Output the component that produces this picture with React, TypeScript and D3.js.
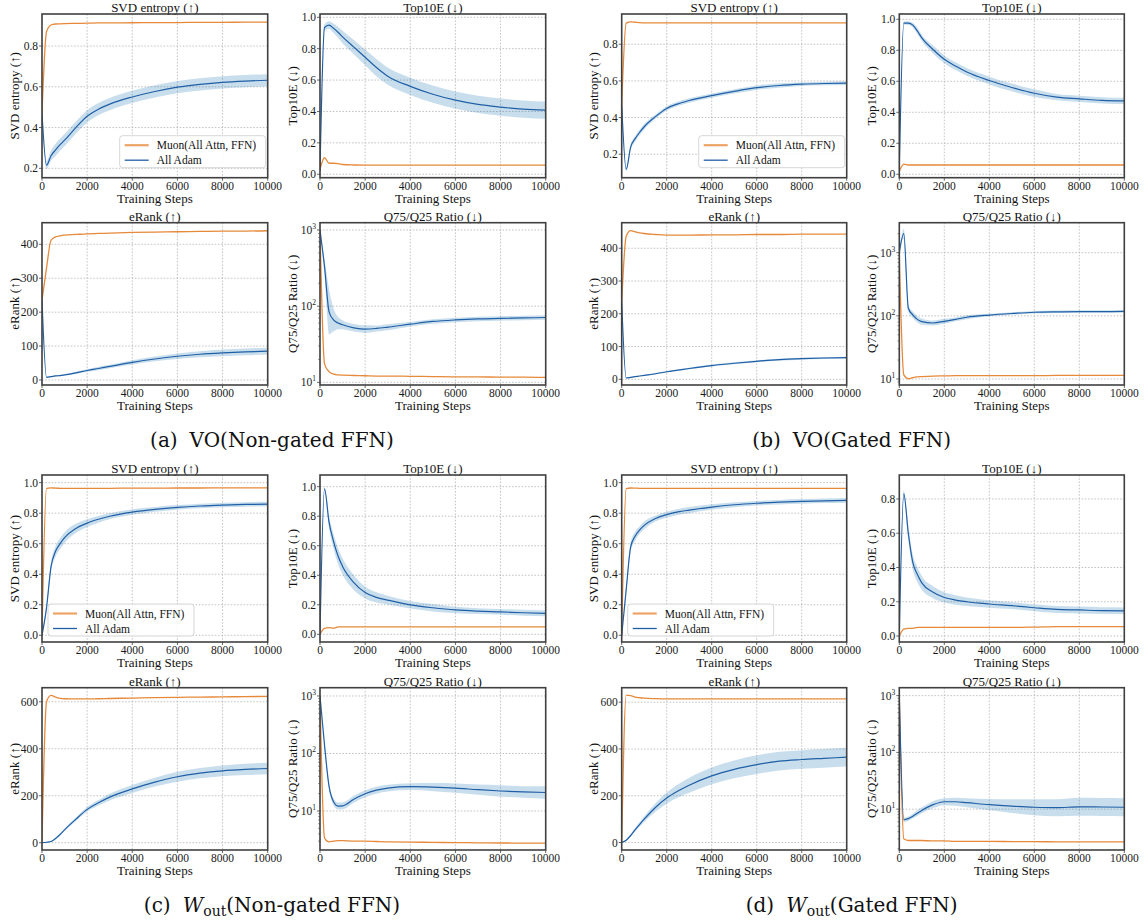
import React from 'react';
import * as d3 from 'd3';

// ---------------- DATA ----------------
const STEPS = [0, 200, 400, 600, 800, 1000, 1500, 2000, 2500, 3000, 4000, 5000, 6000, 7000, 8000, 9000, 10000];
const X_TICKS = [0, 2000, 4000, 6000, 8000, 10000];
const SERIES = ['Muon(All Attn, FFN)', 'All Adam'];
const TITLES = ['SVD entropy (↑)', 'Top10E (↓)', 'eRank (↑)', 'Q75/Q25 Ratio (↓)'];
const X_LABEL = 'Training Steps';
const CAPTION_TAGS = ['(a)', '(b)', '(c)', '(d)'];
const CAPTION_MODULES = ['VO', 'VO', 'W', 'W'];
const CAPTION_SUBS = ['', '', 'out', 'out'];
const CAPTION_VARIANTS = ['(Non-gated FFN)', '(Gated FFN)', '(Non-gated FFN)', '(Gated FFN)'];

const TICKS_SVD_A = [0.2, 0.4, 0.6, 0.8];
const TICKS_01 = [0, 0.2, 0.4, 0.6, 0.8, 1.0];
const TICKS_08 = [0, 0.2, 0.4, 0.6, 0.8];
const TICKS_RANK_400 = [0, 100, 200, 300, 400];
const TICKS_RANK_600 = [0, 200, 400, 600];
const TICKS_LOG = [10, 100, 1000];

// (a) VO (Non-gated FFN)
const A_SVD_MUON = [0.47, 0.87, 0.903, 0.908, 0.909, 0.91, 0.911, 0.912, 0.913, 0.913, 0.914, 0.915, 0.915, 0.916, 0.916, 0.917, 0.917];
const A_SVD_ADAM = [0.47, 0.215, 0.262, 0.29, 0.316, 0.338, 0.4, 0.455, 0.49, 0.515, 0.55, 0.577, 0.598, 0.612, 0.622, 0.628, 0.632];
const A_SVD_ADAM_SD = [0.005, 0.02, 0.025, 0.03, 0.03, 0.03, 0.03, 0.03, 0.03, 0.03, 0.03, 0.03, 0.03, 0.03, 0.03, 0.03, 0.03];
const A_TOP_MUON = [0.03, 0.105, 0.07, 0.07, 0.068, 0.062, 0.059, 0.058, 0.058, 0.058, 0.058, 0.058, 0.058, 0.058, 0.058, 0.058, 0.058];
const A_TOP_ADAM = [0.02, 0.935, 0.95, 0.93, 0.905, 0.875, 0.81, 0.745, 0.68, 0.625, 0.56, 0.51, 0.472, 0.445, 0.428, 0.415, 0.408];
const A_TOP_ADAM_SD = [0.005, 0.02, 0.025, 0.03, 0.035, 0.04, 0.045, 0.05, 0.055, 0.055, 0.055, 0.055, 0.055, 0.055, 0.055, 0.055, 0.055];
const A_RANK_MUON = [236, 330, 412, 422, 425, 427, 429, 431, 432, 433, 435, 436, 437, 438, 439, 439, 440];
const A_RANK_ADAM = [236, 8, 10, 12, 13, 15, 21, 28, 34, 40, 52, 62, 70, 76, 80, 83, 85];
const A_RANK_ADAM_SD = [1, 1, 1, 2, 2, 2, 3, 4, 5, 5, 6, 7, 8, 9, 10, 10, 10];
const A_Q_MUON = [1000, 17.5, 13.8, 12.8, 12.5, 12.4, 12.3, 12.2, 12.1, 12.1, 12.0, 11.9, 11.8, 11.8, 11.7, 11.7, 11.6];
const A_Q_ADAM = [1000, 330, 85, 66, 60, 57, 52, 50, 51, 53, 58, 63, 66, 68, 69, 70, 71];
const A_Q_ADAM_SD = [0, 0.1, 0.3, 0.15, 0.08, 0.06, 0.05, 0.05, 0.04, 0.04, 0.03, 0.03, 0.03, 0.03, 0.03, 0.03, 0.03];

// (b) VO (Gated FFN)
const B_SVD_MUON = [0.47, 0.915, 0.922, 0.92, 0.918, 0.917, 0.917, 0.917, 0.917, 0.917, 0.917, 0.917, 0.917, 0.917, 0.917, 0.917, 0.917];
const B_SVD_ADAM = [0.47, 0.118, 0.24, 0.285, 0.32, 0.35, 0.405, 0.45, 0.475, 0.493, 0.52, 0.543, 0.563, 0.575, 0.582, 0.586, 0.588];
const B_SVD_ADAM_SD = [0.005, 0.01, 0.015, 0.015, 0.015, 0.015, 0.012, 0.012, 0.012, 0.012, 0.012, 0.012, 0.012, 0.012, 0.01, 0.01, 0.01];
const B_TOP_MUON = [0.02, 0.065, 0.06, 0.06, 0.06, 0.06, 0.06, 0.06, 0.06, 0.06, 0.06, 0.06, 0.06, 0.06, 0.06, 0.06, 0.06];
const B_TOP_ADAM = [0.02, 0.975, 0.975, 0.962, 0.925, 0.88, 0.805, 0.742, 0.698, 0.66, 0.605, 0.56, 0.523, 0.498, 0.487, 0.477, 0.473];
const B_TOP_ADAM_SD = [0.005, 0.01, 0.012, 0.015, 0.02, 0.02, 0.025, 0.025, 0.025, 0.025, 0.025, 0.025, 0.025, 0.02, 0.02, 0.02, 0.02];
const B_RANK_MUON = [236, 437, 454, 450, 447, 445, 442, 440, 440, 440, 441, 441, 442, 442, 443, 443, 443];
const B_RANK_ADAM = [236, 4, 6, 8, 10, 12, 17, 23, 28, 33, 42, 49, 55, 60, 63, 65, 66];
const B_RANK_ADAM_SD = [1, 1, 1, 1, 1, 1, 2, 2, 2, 2, 3, 3, 3, 3, 3, 3, 3];
const B_Q_MUON = [950, 11.6, 10.1, 10.5, 10.8, 10.9, 11.1, 11.2, 11.3, 11.3, 11.3, 11.3, 11.3, 11.4, 11.4, 11.4, 11.4];
const B_Q_ADAM = [1000, 2000, 132, 104, 88, 81, 77, 82, 88, 95, 103, 109, 114, 116, 117, 117, 118];
const B_Q_ADAM_SD = [0, 0.08, 0.06, 0.05, 0.05, 0.05, 0.04, 0.04, 0.03, 0.03, 0.02, 0.02, 0.02, 0.02, 0.02, 0.02, 0.02];

// (c) W_out (Non-gated FFN)
const C_SVD_MUON = [0.01, 0.963, 0.966, 0.964, 0.963, 0.962, 0.962, 0.962, 0.963, 0.963, 0.964, 0.964, 0.965, 0.965, 0.966, 0.966, 0.966];
const C_SVD_ADAM = [0.0, 0.18, 0.45, 0.55, 0.6, 0.64, 0.7, 0.735, 0.76, 0.78, 0.807, 0.825, 0.838, 0.847, 0.853, 0.857, 0.859];
const C_SVD_ADAM_SD = [0.002, 0.02, 0.03, 0.035, 0.035, 0.035, 0.03, 0.025, 0.022, 0.02, 0.018, 0.016, 0.015, 0.015, 0.015, 0.015, 0.015];
const C_TOP_MUON = [0.0, 0.04, 0.045, 0.042, 0.05, 0.05, 0.05, 0.05, 0.05, 0.05, 0.05, 0.05, 0.05, 0.05, 0.05, 0.05, 0.05];
const C_TOP_ADAM = [0.0, 0.985, 0.76, 0.63, 0.53, 0.46, 0.35, 0.283, 0.25, 0.232, 0.2, 0.18, 0.165, 0.157, 0.152, 0.146, 0.142];
const C_TOP_ADAM_SD = [0.002, 0.01, 0.04, 0.05, 0.055, 0.055, 0.05, 0.04, 0.035, 0.03, 0.025, 0.025, 0.022, 0.02, 0.02, 0.02, 0.02];
const C_RANK_MUON = [5, 600, 627, 620, 615, 613, 612, 612, 613, 614, 616, 618, 619, 620, 621, 622, 623];
const C_RANK_ADAM = [0, 2, 5, 18, 35, 55, 100, 142, 170, 194, 229, 258, 281, 296, 306, 312, 316];
const C_RANK_ADAM_SD = [0, 1, 2, 3, 4, 5, 7, 10, 12, 14, 17, 19, 21, 22, 23, 24, 25];
const C_Q_MUON = [1000, 3.4, 2.9, 3.0, 3.05, 3.05, 3.0, 3.0, 2.95, 2.9, 2.88, 2.85, 2.82, 2.8, 2.78, 2.77, 2.76];
const C_Q_ADAM = [1000, 140, 27, 14.5, 12.2, 12.3, 16, 20, 23, 25, 26.5, 26, 25, 23.5, 22.3, 21.5, 21];
const C_Q_ADAM_SD = [0, 0.05, 0.06, 0.06, 0.06, 0.06, 0.06, 0.06, 0.06, 0.06, 0.06, 0.07, 0.08, 0.09, 0.1, 0.1, 0.11];

// (d) W_out (Gated FFN)
const D_SVD_MUON = [0.0, 0.96, 0.965, 0.964, 0.963, 0.963, 0.963, 0.963, 0.963, 0.963, 0.963, 0.963, 0.963, 0.963, 0.963, 0.963, 0.963];
const D_SVD_ADAM = [0.0, 0.3, 0.58, 0.65, 0.69, 0.72, 0.765, 0.79, 0.808, 0.82, 0.84, 0.855, 0.865, 0.872, 0.877, 0.881, 0.884];
const D_SVD_ADAM_SD = [0.002, 0.03, 0.03, 0.03, 0.025, 0.025, 0.02, 0.02, 0.02, 0.02, 0.018, 0.016, 0.015, 0.015, 0.015, 0.015, 0.015];
const D_TOP_MUON = [0.0, 0.04, 0.045, 0.045, 0.05, 0.05, 0.05, 0.05, 0.05, 0.05, 0.05, 0.05, 0.052, 0.055, 0.055, 0.055, 0.055];
const D_TOP_ADAM = [0.0, 0.83, 0.6, 0.43, 0.36, 0.31, 0.255, 0.225, 0.21, 0.2, 0.187, 0.177, 0.165, 0.155, 0.152, 0.148, 0.147];
const D_TOP_ADAM_SD = [0.002, 0.02, 0.04, 0.045, 0.045, 0.04, 0.035, 0.03, 0.028, 0.025, 0.022, 0.02, 0.02, 0.02, 0.02, 0.02, 0.02];
const D_RANK_MUON = [0, 630, 628, 622, 619, 617, 615, 614, 614, 614, 614, 614, 614, 614, 614, 614, 614];
const D_RANK_ADAM = [0, 10, 30, 55, 78, 100, 150, 190, 220, 245, 285, 313, 333, 348, 355, 360, 365];
const D_RANK_ADAM_SD = [0, 3, 5, 8, 10, 12, 18, 24, 28, 32, 36, 38, 40, 40, 40, 40, 40];
const D_Q_MUON = [1000, 3.0, 2.8, 2.8, 2.8, 2.8, 2.75, 2.75, 2.7, 2.7, 2.7, 2.68, 2.67, 2.66, 2.65, 2.65, 2.65];
const D_Q_ADAM = [1000, 6.5, 6.8, 7.5, 8.5, 9.5, 12, 13.5, 13.5, 13, 12, 11.3, 10.8, 10.6, 11, 10.9, 10.8];
const D_Q_ADAM_SD = [0, 0.04, 0.04, 0.04, 0.05, 0.05, 0.06, 0.06, 0.07, 0.08, 0.1, 0.12, 0.14, 0.15, 0.16, 0.16, 0.16];

// ---------------- STYLE ----------------
const FONT = "'Liberation Serif', 'Times New Roman', Times, serif";
const CAP_FONT = "'DejaVu Serif', serif";
const C_MUON = '#e6893a';
const C_MUON_LEG = '#eda466';
const C_ADAM = '#1f5fa6';
const C_BAND = '#1f77b4';
const C_FRAME = '#404040';
const C_GRID = '#b5b5b5';

type Spec = {
  id: string;
  x: number; y: number; w: number; h: number;
  title: string;
  log: boolean;
  yDomain: [number, number];
  yTicks: number[];
  fmt: (v: number) => string;
  muon: number[];
  adam: number[];
  adamSd: number[];
  legend?: 'lr' | 'll';
};

const f1 = (v: number) => d3.format('.1f')(v);
const f0 = (v: number) => d3.format('d')(v);

function Panel({ p }: { p: Spec }) {
  const xs = d3.scaleLinear().domain([0, 10000]).range([p.x, p.x + p.w]);
  const ys: any = p.log
    ? d3.scaleLog().domain(p.yDomain).range([p.y + p.h, p.y])
    : d3.scaleLinear().domain(p.yDomain).range([p.y + p.h, p.y]);
  const bottom = p.y + p.h;
  const line = d3.line<number>()
    .x((_, i) => xs(STEPS[i]))
    .y((v) => ys(v))
    .curve(d3.curveMonotoneX);
  const lo = (v: number, s: number) => (p.log ? v / Math.pow(10, s) : v - s);
  const hi = (v: number, s: number) => (p.log ? v * Math.pow(10, s) : v + s);
  const area = d3.area<number>()
    .x((_, i) => xs(STEPS[i]))
    .y0((v, i) => ys(lo(v, p.adamSd[i])))
    .y1((v, i) => ys(hi(v, p.adamSd[i])))
    .curve(d3.curveMonotoneX);

  const minor: number[] = [];
  if (p.log) {
    const d0 = Math.floor(Math.log10(p.yDomain[0]));
    const d1 = Math.ceil(Math.log10(p.yDomain[1]));
    for (let d = d0; d <= d1; d++) {
      for (let k = 2; k <= 9; k++) {
        const v = k * Math.pow(10, d);
        if (v > p.yDomain[0] && v < p.yDomain[1]) minor.push(v);
      }
    }
  }

  const clipId = 'clip-' + p.id;
  const cx = p.x + p.w / 2;

  let legend: any = null;
  if (p.legend) {
    const lw = 146, lh = 32;
    const lx = p.legend === 'lr' ? p.x + p.w - lw - 2 : p.x + 6;
    const ly = p.legend === 'lr' ? bottom - lh - 10 : bottom - lh - 6;
    legend = (
      <g>
        <rect x={lx} y={ly} width={lw} height={lh} rx={3} fill="white" fillOpacity={0.85} stroke="#cccccc" strokeWidth={0.8} />
        <line x1={lx + 5} x2={lx + 29} y1={ly + 9.5} y2={ly + 9.5} stroke={C_MUON_LEG} strokeWidth={2.2} />
        <text x={lx + 37} y={ly + 13.5} fontSize={11.5} fill="#111">{SERIES[0]}</text>
        <line x1={lx + 5} x2={lx + 29} y1={ly + 24.5} y2={ly + 24.5} stroke={C_ADAM} strokeWidth={1.3} />
        <text x={lx + 37} y={ly + 28.5} fontSize={11.5} fill="#111">{SERIES[1]}</text>
      </g>
    );
  }

  return (
    <g>
      <defs>
        <clipPath id={clipId}>
          <rect x={p.x} y={p.y} width={p.w} height={p.h} />
        </clipPath>
      </defs>
      <g stroke={C_GRID} strokeWidth={0.8} strokeDasharray="1.6,1.6">
        {X_TICKS.map((t) => (
          <line key={'gx' + t} x1={xs(t)} x2={xs(t)} y1={p.y} y2={bottom} />
        ))}
        {p.yTicks.map((t) => (
          <line key={'gy' + t} x1={p.x} x2={p.x + p.w} y1={ys(t)} y2={ys(t)} />
        ))}
      </g>
      <g clipPath={`url(#${clipId})`}>
        <path d={line(p.muon) || ''} fill="none" stroke={C_MUON} strokeWidth={1.3} />
        <path d={area(p.adam) || ''} fill={C_BAND} fillOpacity={0.24} stroke="none" />
        <path d={line(p.adam) || ''} fill="none" stroke={C_ADAM} strokeWidth={1.2} />
      </g>
      <g stroke={C_FRAME} strokeWidth={0.8}>
        {X_TICKS.map((t) => (
          <line key={'tx' + t} x1={xs(t)} x2={xs(t)} y1={bottom} y2={bottom + 3} />
        ))}
        {p.yTicks.map((t) => (
          <line key={'ty' + t} x1={p.x - 3} x2={p.x} y1={ys(t)} y2={ys(t)} />
        ))}
        {minor.map((t) => (
          <line key={'tm' + t} x1={p.x - 1.8} x2={p.x} y1={ys(t)} y2={ys(t)} strokeWidth={0.6} />
        ))}
      </g>
      <g fontSize={11.5} fill="#1a1a1a">
        {X_TICKS.map((t) => (
          <text key={'lx' + t} x={xs(t)} y={bottom + 12} textAnchor="middle">{f0(t)}</text>
        ))}
        {p.yTicks.map((t) =>
          p.log ? (
            <text key={'ly' + t} x={p.x - 4} y={ys(t) + 4} textAnchor="end">
              10<tspan fontSize={7.5} dy={-5}>{Math.round(Math.log10(t))}</tspan>
            </text>
          ) : (
            <text key={'ly' + t} x={p.x - 4} y={ys(t) + 4} textAnchor="end">{p.fmt(t)}</text>
          )
        )}
      </g>
      <text x={cx} y={p.y - 2} textAnchor="middle" fontSize={13} fill="#111">{p.title}</text>
      <text x={cx} y={bottom + 25} textAnchor="middle" fontSize={13} fill="#111">{X_LABEL}</text>
      <text transform={`translate(${p.x - 23.5},${p.y + p.h / 2}) rotate(-90)`} textAnchor="middle" fontSize={13} fill="#111">{p.title}</text>
      {legend}
      <rect x={p.x} y={p.y} width={p.w} height={p.h} fill="none" stroke={C_FRAME} strokeWidth={1.6} />
    </g>
  );
}

const GROUP_X = [
  { l: 42, r: 320, w: 225.7 },
  { l: 621.7, r: 899.3, w: 225 },
];
const GROUP_Y = [
  { t1: 14, h1: 163.7, t2: 222.7, h2: 162.3, cap: 447 },
  { t1: 475, h1: 167, t2: 687.7, h2: 162.3, cap: 912 },
];

export default function App() {
  const groups = [
    {
      gx: 0, gy: 0,
      svd: { muon: A_SVD_MUON, adam: A_SVD_ADAM, sd: A_SVD_ADAM_SD, dom: [0.154, 0.957], ticks: TICKS_SVD_A, legend: 'lr' },
      top: { muon: A_TOP_MUON, adam: A_TOP_ADAM, sd: A_TOP_ADAM_SD, dom: [-0.022, 1.021], ticks: TICKS_01 },
      rank: { muon: A_RANK_MUON, adam: A_RANK_ADAM, sd: A_RANK_ADAM_SD, dom: [-14.7, 463.7], ticks: TICKS_RANK_400 },
      q: { muon: A_Q_MUON, adam: A_Q_ADAM, sd: A_Q_ADAM_SD, dom: [Math.pow(10, 0.965), Math.pow(10, 3.096)], ticks: TICKS_LOG },
    },
    {
      gx: 1, gy: 0,
      svd: { muon: B_SVD_MUON, adam: B_SVD_ADAM, sd: B_SVD_ADAM_SD, dom: [0.072, 0.965], ticks: TICKS_SVD_A, legend: 'lr' },
      top: { muon: B_TOP_MUON, adam: B_TOP_ADAM, sd: B_TOP_ADAM_SD, dom: [-0.022, 1.034], ticks: TICKS_01 },
      rank: { muon: B_RANK_MUON, adam: B_RANK_ADAM, sd: B_RANK_ADAM_SD, dom: [-17.4, 478], ticks: TICKS_RANK_400 },
      q: { muon: B_Q_MUON, adam: B_Q_ADAM, sd: B_Q_ADAM_SD, dom: [Math.pow(10, 0.905), Math.pow(10, 3.475)], ticks: TICKS_LOG },
    },
    {
      gx: 0, gy: 1,
      svd: { muon: C_SVD_MUON, adam: C_SVD_ADAM, sd: C_SVD_ADAM_SD, dom: [-0.044, 1.05], ticks: TICKS_01, legend: 'll' },
      top: { muon: C_TOP_MUON, adam: C_TOP_ADAM, sd: C_TOP_ADAM_SD, dom: [-0.052, 1.079], ticks: TICKS_01 },
      rank: { muon: C_RANK_MUON, adam: C_RANK_ADAM, sd: C_RANK_ADAM_SD, dom: [-31, 660], ticks: TICKS_RANK_600 },
      q: { muon: C_Q_MUON, adam: C_Q_ADAM, sd: C_Q_ADAM_SD, dom: [Math.pow(10, 0.322), Math.pow(10, 3.144)], ticks: TICKS_LOG },
    },
    {
      gx: 1, gy: 1,
      svd: { muon: D_SVD_MUON, adam: D_SVD_ADAM, sd: D_SVD_ADAM_SD, dom: [-0.044, 1.05], ticks: TICKS_01, legend: 'll' },
      top: { muon: D_TOP_MUON, adam: D_TOP_ADAM, sd: D_TOP_ADAM_SD, dom: [-0.035, 0.94], ticks: TICKS_08 },
      rank: { muon: D_RANK_MUON, adam: D_RANK_ADAM, sd: D_RANK_ADAM_SD, dom: [-32, 662], ticks: TICKS_RANK_600 },
      q: { muon: D_Q_MUON, adam: D_Q_ADAM, sd: D_Q_ADAM_SD, dom: [Math.pow(10, 0.28), Math.pow(10, 3.14)], ticks: TICKS_LOG },
    },
  ];

  const specs: Spec[] = [];
  groups.forEach((g, gi) => {
    const X = GROUP_X[g.gx];
    const Y = GROUP_Y[g.gy];
    const cells: [any, number, number, number, number, string, boolean, (v: number) => string][] = [
      [g.svd, X.l, Y.t1, X.w, Y.h1, TITLES[0], false, f1],
      [g.top, X.r, Y.t1, X.w, Y.h1, TITLES[1], false, f1],
      [g.rank, X.l, Y.t2, X.w, Y.h2, TITLES[2], false, f0],
      [g.q, X.r, Y.t2, X.w, Y.h2, TITLES[3], true, f0],
    ];
    cells.forEach(([d, x, y, w, h, title, log, fmt], ci) => {
      specs.push({
        id: `${gi}-${ci}`, x, y, w, h, title, log,
        yDomain: d.dom, yTicks: d.ticks, fmt,
        muon: d.muon, adam: d.adam, adamSd: d.sd, legend: d.legend,
      });
    });
  });

  const captions = [0, 1, 2, 3].map((i) => {
    const X = GROUP_X[i % 2];
    const Y = GROUP_Y[Math.floor(i / 2)];
    const cx = X.l + 230;
    const hasSub = !!CAPTION_SUBS[i];
    return (
      <text key={'cap' + i} x={cx} y={Y.cap} textAnchor="middle" fontSize={20} fill="#111" style={{ fontFamily: CAP_FONT }}>
        {CAPTION_TAGS[i]}
        <tspan dx={12} fontStyle={hasSub ? 'italic' : 'normal'}>{CAPTION_MODULES[i]}</tspan>
        {hasSub ? <tspan fontSize={14} dy={4}>{CAPTION_SUBS[i]}</tspan> : null}
        <tspan dy={hasSub ? -4 : 0}>{CAPTION_VARIANTS[i]}</tspan>
      </text>
    );
  });

  return (
    <svg width={1145} height={922} style={{ position: 'absolute', left: 0, top: 0, background: 'white', fontFamily: FONT }}>
      <rect x={0} y={0} width={1145} height={922} fill="white" />
      {specs.map((s) => (
        <Panel key={s.id} p={s} />
      ))}
      {captions}
    </svg>
  );
}
